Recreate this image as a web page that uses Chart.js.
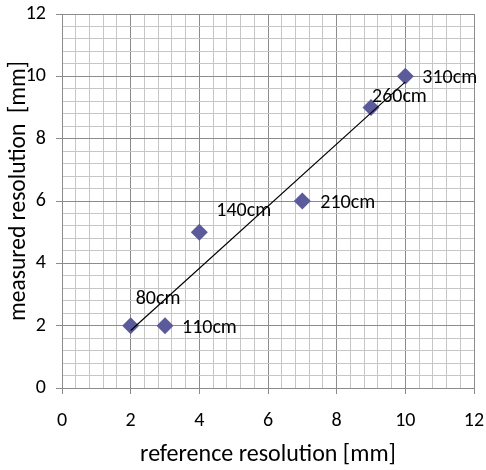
<!DOCTYPE html>
<html>
<head>
<meta charset="utf-8">
<script src="https://cdn.jsdelivr.net/npm/chart.js@4"></script>
<style>
  body { margin: 0; background: #fff; }
</style>
</head>
<body>
<canvas id="resChart" width="486" height="470"></canvas>
<script>
// 測定データ
const refRes = [2, 3, 4, 7, 9, 10];        // reference resolution [mm]
const measRes = [2, 2, 5, 6, 9, 10];       // measured resolution [mm]
const distLabels = ['80cm', '110cm', '140cm', '210cm', '260cm', '310cm'];
const axisTicks = [0, 2, 4, 6, 8, 10, 12];

// ラベルの位置 (点からのずれ: 左端x, 中心y)
const labelOffsets = [[5, -27], [17, 2], [17, -21], [18, 2], [1, -11], [17, 2]];

const FONT = "Carlito, Calibri, Lato, sans-serif";

// 近似直線 (最小二乗法)
function linearFit(xs, ys) {
    const n = xs.length;
    const mx = xs.reduce((a, b) => a + b, 0) / n;
    const my = ys.reduce((a, b) => a + b, 0) / n;
    let sxy = 0, sxx = 0;
    for (let i = 0; i < n; i++) {
        sxy += (xs[i] - mx) * (ys[i] - my);
        sxx += (xs[i] - mx) * (xs[i] - mx);
    }
    const slope = sxy / sxx;
    return { slope: slope, intercept: my - slope * mx };
}
const fit = linearFit(refRes, measRes);
const xMin = Math.min(...refRes), xMax = Math.max(...refRes);
const trendPoints = [
    { x: xMin, y: fit.slope * xMin + fit.intercept },
    { x: xMax, y: fit.slope * xMax + fit.intercept }
];

const isMajor = v => Math.abs(v / 2 - Math.round(v / 2)) < 1e-6;

// グリッド: 主目盛り2, 補助目盛り0.4
function gridOpts() {
    return {
        color: ctx => isMajor(ctx.tick.value) ? '#8c8c8c' : '#c6c6c6',
        tickColor: ctx => isMajor(ctx.tick.value) ? '#8c8c8c' : 'rgba(0,0,0,0)',
        lineWidth: 1,
        tickLength: 6
    };
}

function tickOpts() {
    return {
        stepSize: 0.4,
        autoSkip: false,
        maxRotation: 0,
        color: '#000',
        font: { family: FONT, size: 20 },
        callback: v => isMajor(v) ? String(Math.round(v)) : ''
    };
}

// 目盛りラベルのはみ出し分は使わず、余白はlayout.paddingだけで決める
function fixScale(s, key, size) {
    s[key] = size;
    s.paddingLeft = 0;
    s.paddingRight = 0;
    s.paddingTop = 0;
    s.paddingBottom = 0;
}

// データラベルと縦軸タイトルの描画
const pointLabels = {
    id: 'pointLabels',
    afterDatasetsDraw(chart) {
        const meta = chart.getDatasetMeta(1);
        const ctx = chart.ctx;
        ctx.save();
        ctx.font = '20px ' + FONT;
        ctx.fillStyle = '#000';
        ctx.textAlign = 'left';
        ctx.textBaseline = 'middle';
        meta.data.forEach((pt, i) => {
            ctx.fillText(distLabels[i], pt.x + labelOffsets[i][0], pt.y + labelOffsets[i][1]);
        });

        // 縦軸タイトル
        const area = chart.chartArea;
        ctx.font = '23.5px ' + FONT;
        ctx.textAlign = 'center';
        ctx.translate(19, (area.top + area.bottom) / 2 - 10);
        ctx.rotate(-Math.PI / 2);
        ctx.fillText('measured resolution  [mm]', 0, 0);
        ctx.restore();
    }
};

const ctx = document.getElementById('resChart').getContext('2d');
new Chart(ctx, {
    type: 'scatter',
    data: {
        datasets: [
            {
                label: 'trend',
                data: trendPoints,
                showLine: true,
                borderColor: '#000',
                borderWidth: 1.2,
                pointRadius: 0,
                order: 0
            },
            {
                label: 'resolution',
                data: refRes.map((x, i) => ({ x: x, y: measRes[i] })),
                pointStyle: 'rectRot',
                pointRadius: 8.5,
                backgroundColor: '#5b5b9b',
                borderColor: '#5b5b9b',
                borderWidth: 0,
                order: 1
            }
        ]
    },
    options: {
        responsive: false,
        animation: false,
        layout: { padding: { top: 14, right: 12, left: 0, bottom: 0 } },
        plugins: {
            legend: { display: false },
            tooltip: { enabled: false }
        },
        scales: {
            x: {
                type: 'linear',
                min: axisTicks[0],
                max: axisTicks[axisTicks.length - 1],
                grid: gridOpts(),
                border: { color: '#8c8c8c' },
                ticks: Object.assign(tickOpts(), { padding: 15 }),
                title: {
                    display: true,
                    text: 'reference resolution [mm]',
                    color: '#000',
                    font: { family: FONT, size: 24 },
                    padding: { top: 0, bottom: 1 }
                },
                afterFit: s => fixScale(s, 'height', 82)
            },
            y: {
                type: 'linear',
                min: axisTicks[0],
                max: axisTicks[axisTicks.length - 1],
                grid: gridOpts(),
                border: { color: '#8c8c8c' },
                ticks: Object.assign(tickOpts(), { padding: 10 }),
                afterFit: s => fixScale(s, 'width', 62)
            }
        }
    },
    plugins: [pointLabels]
});
</script>
</body>
</html>
